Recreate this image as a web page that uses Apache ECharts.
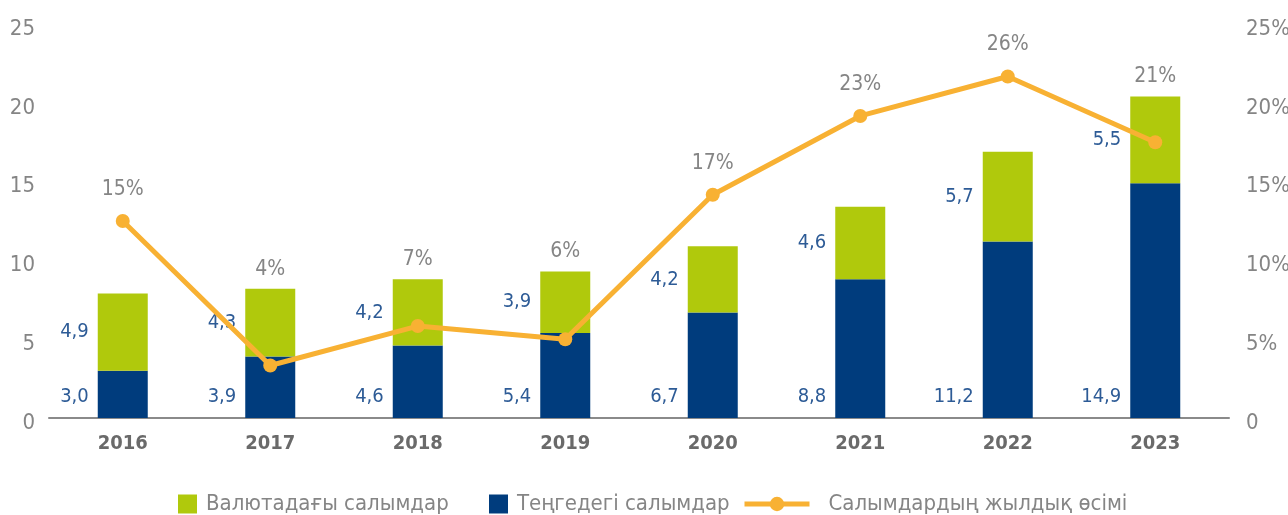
<!DOCTYPE html>
<html>
<head>
<meta charset="utf-8">
<script src="https://cdn.jsdelivr.net/npm/echarts@6/dist/echarts.min.js"></script>
<style>
html,body{margin:0;padding:0;background:#fff;}
#chart{width:1288px;height:515px;}
</style>
</head>
<body>
<div id="chart"></div>
<script>
const years = ['2016', '2017', '2018', '2019', '2020', '2021', '2022', '2023'];
const tengeDeposits = [3.0, 3.9, 4.6, 5.4, 6.7, 8.8, 11.2, 14.9];
const foreignDeposits = [4.9, 4.3, 4.2, 3.9, 4.2, 4.6, 5.7, 5.5];
const growthRates = [15, 4, 7, 6, 17, 23, 26, 21];
const leftTicks = [0, 25, 5];
const growthAxisMax = 30;

const NAME_FOREIGN = 'Валютадағы салымдар';
const NAME_TENGE = 'Теңгедегі салымдар';
const NAME_GROWTH = 'Салымдардың жылдық өсімі';

const FONT = "'DejaVu Sans Condensed', 'Liberation Sans Narrow', sans-serif";
const C_GREEN = '#b0c90c';
const C_BLUE = '#003c7d';
const C_ORANGE = '#f8b133';
const C_LABEL_BLUE = '#2d5b96';
const C_GRAY = '#858585';

// decide where each growth label sits: above the line point or above the bar
const lineOnTop = years.map((_, i) =>
  growthRates[i] / growthAxisMax > (tengeDeposits[i] + foreignDeposits[i]) / leftTicks[1]);

const fmtNum = v => v.toFixed(1).replace('.', ',');

const tickRich = { t: { fontSize: 22, color: C_GRAY, fontFamily: FONT, padding: [10, 0, 0, 0] } };

const legendCommon = {
  top: 493, itemHeight: 19, padding: 0,
  textStyle: { fontSize: 22, color: C_GRAY, fontFamily: FONT, padding: [0, 0, 0, 4] }
};

const chart = echarts.init(document.getElementById('chart'));
chart.setOption({
  animation: false,
  textStyle: { fontFamily: FONT },
  grid: { left: 49, right: 59, top: 24, bottom: 97, outerBoundsMode: 'none', containLabel: false },
  legend: [
    Object.assign({}, legendCommon, { data: [{ name: NAME_FOREIGN, icon: 'rect' }], left: 178, itemWidth: 19 }),
    Object.assign({}, legendCommon, { data: [{ name: NAME_TENGE, icon: 'rect' }], left: 489, itemWidth: 19 }),
    Object.assign({}, legendCommon, {
      data: [NAME_GROWTH], left: 742, itemWidth: 65, itemHeight: 18,
      lineStyle: { width: 5 },
      textStyle: { fontSize: 22, color: C_GRAY, fontFamily: FONT, padding: [0, 0, 0, 14] }
    })
  ],
  xAxis: {
    type: 'category',
    data: years,
    axisTick: { show: false },
    axisLine: { lineStyle: { color: '#8a8a8a', width: 2 } },
    axisLabel: { fontSize: 20, color: '#6a6a6a', margin: 16, fontWeight: 'bold', fontFamily: FONT }
  },
  yAxis: [
    {
      type: 'value', min: leftTicks[0], max: leftTicks[1], interval: leftTicks[2],
      splitLine: { show: false },
      axisLine: { show: false }, axisTick: { show: false },
      axisLabel: { margin: 14, rich: tickRich, formatter: v => '{t|' + v + '}' }
    },
    {
      type: 'value', position: 'right', min: leftTicks[0], max: leftTicks[1], interval: leftTicks[2],
      splitLine: { show: false },
      axisLine: { show: false }, axisTick: { show: false },
      axisLabel: {
        margin: 17, rich: tickRich,
        formatter: v => '{t|' + (v === 0 ? '0' : v + '%') + '}'
      }
    },
    {
      type: 'value', position: 'right', min: 0, max: growthAxisMax, show: false
    }
  ],
  series: [
    {
      name: NAME_TENGE, type: 'bar', stack: 'dep', barWidth: 50,
      itemStyle: { color: C_BLUE },
      data: tengeDeposits,
      label: {
        show: true, position: [-9, '100%'], offset: [0, -21],
        align: 'right', verticalAlign: 'middle',
        fontSize: 20, color: C_LABEL_BLUE, fontFamily: FONT,
        formatter: p => fmtNum(p.value)
      }
    },
    {
      name: NAME_FOREIGN, type: 'bar', stack: 'dep', barWidth: 50,
      itemStyle: { color: C_GREEN },
      data: foreignDeposits,
      label: {
        show: true, position: 'left', distance: 9,
        fontSize: 20, color: C_LABEL_BLUE, fontFamily: FONT,
        formatter: p => fmtNum(p.value)
      }
    },
    {
      name: 'growthLabelHolder', type: 'bar', stack: 'dep', barWidth: 50,
      itemStyle: { color: 'transparent' },
      data: years.map(() => 0),
      silent: true,
      label: {
        show: true, position: 'top', distance: 9,
        fontSize: 21, color: C_GRAY, fontFamily: FONT,
        formatter: p => lineOnTop[p.dataIndex] ? '' : growthRates[p.dataIndex] + '%'
      }
    },
    {
      name: NAME_GROWTH, type: 'line', yAxisIndex: 2,
      data: growthRates,
      symbol: 'circle', symbolSize: 14,
      lineStyle: { color: C_ORANGE, width: 5 },
      itemStyle: { color: C_ORANGE },
      z: 5,
      label: {
        show: true, position: 'top', distance: 14,
        fontSize: 21, color: C_GRAY, fontFamily: FONT,
        formatter: p => lineOnTop[p.dataIndex] ? growthRates[p.dataIndex] + '%' : ''
      }
    }
  ]
});
</script>
</body>
</html>
